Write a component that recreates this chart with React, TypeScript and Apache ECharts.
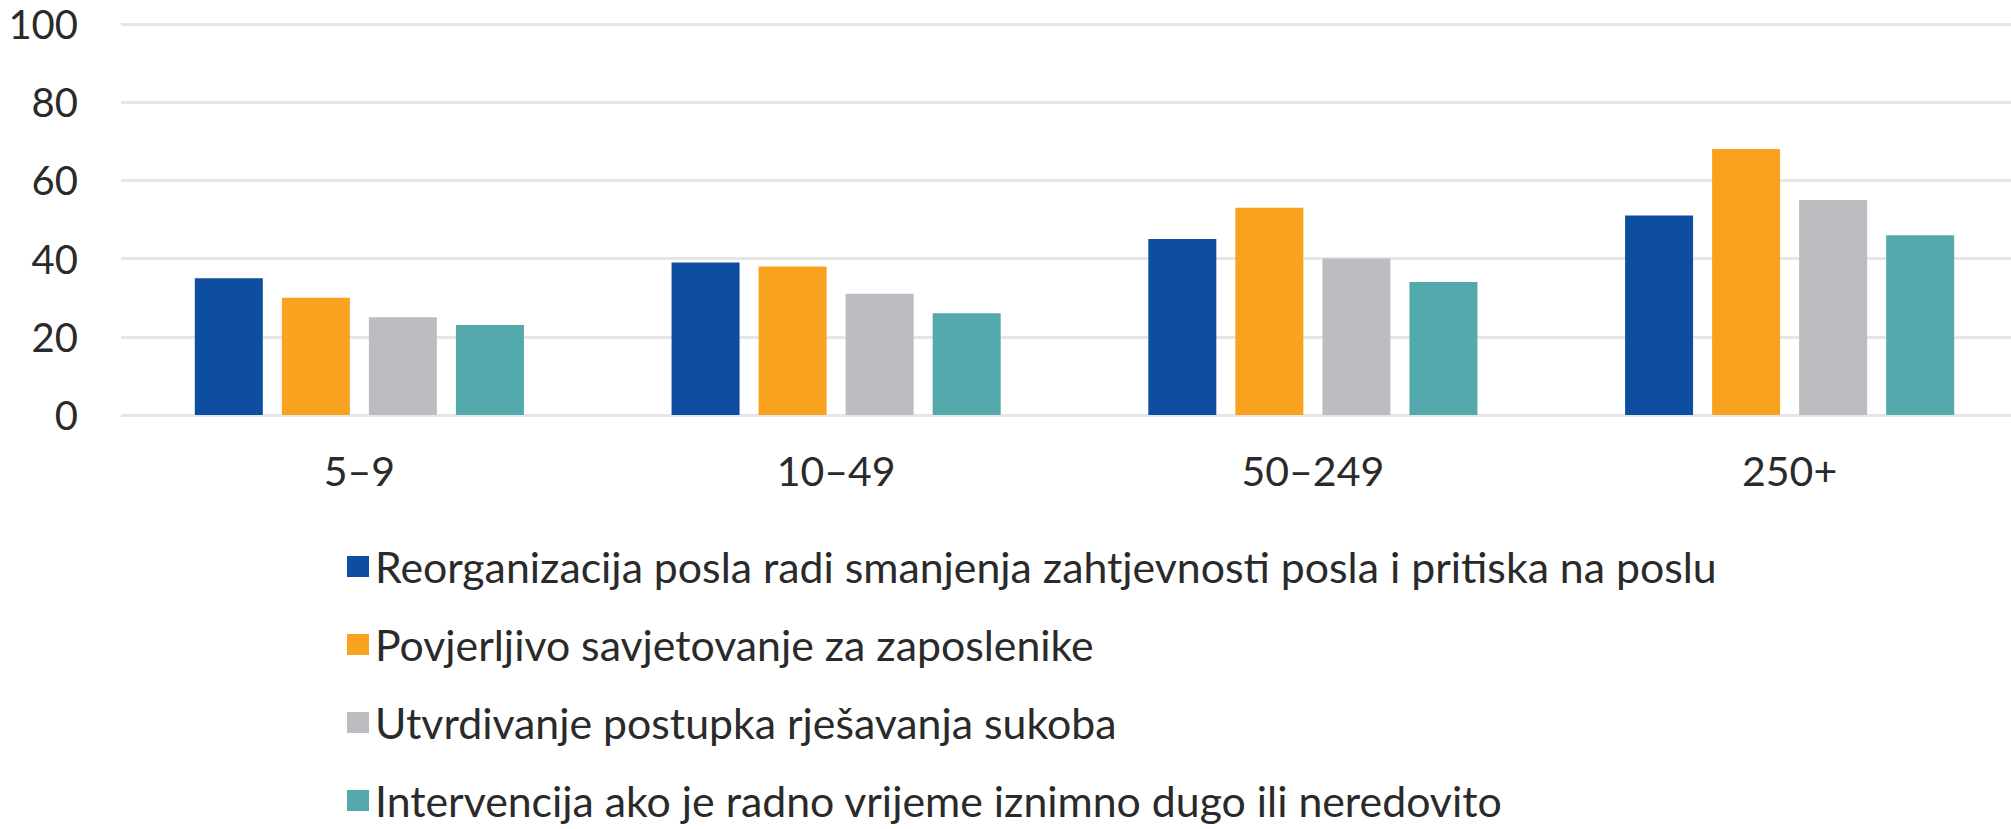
import React, { useEffect, useRef } from "react";
import * as echarts from "echarts";

const categories = ["5–9", "10–49", "50–249", "250+"];
const seriesNames = [
  "Reorganizacija posla radi smanjenja zahtjevnosti posla i pritiska na poslu",
  "Povjerljivo savjetovanje za zaposlenike",
  "Utvrdivanje postupka rješavanja sukoba",
  "Intervencija ako je radno vrijeme iznimno dugo ili neredovito",
];
const reorganizacija = [35, 39, 45, 51];
const savjetovanje = [30, 38, 53, 68];
const sukobi = [25, 31, 40, 55];
const intervencija = [23, 26, 34, 46];
const yTicks = [0, 20, 40, 60, 80, 100];

const colors = ["#0D4EA0", "#F8A21F", "#BCBDC1", "#53A9AB"];
const legendTops = [540, 618, 696, 774];
const FONT = "Lato";
const TEXT = "#2a2a2a";
const CHART_W = 2040;

export default function App() {
  const ref = useRef<HTMLDivElement>(null);
  useEffect(() => {
    if (!ref.current) return;
    const chart = echarts.init(ref.current, undefined, { renderer: "svg" });
    const values = [reorganizacija, savjetovanje, sukobi, intervencija];
    chart.setOption({
      animation: false,
      backgroundColor: "#ffffff",
      textStyle: { fontFamily: FONT },
      grid: { left: 121, right: CHART_W - 2028, top: 24, bottom: 414, containLabel: false },
      legend: seriesNames.map((name, i) => ({
        orient: "vertical",
        left: 342,
        top: legendTops[i],
        itemWidth: 22,
        itemHeight: 21,
        icon: "rect",
        data: [name],
        selectedMode: false,
        textStyle: {
          fontFamily: FONT,
          fontSize: 42.8,
          color: TEXT,
          lineHeight: 40,
          padding: [0, 0, 0, 1],
        },
      })),
      xAxis: {
        type: "category",
        data: categories,
        axisLine: { show: false },
        axisTick: { show: false },
        axisLabel: { fontFamily: FONT, fontSize: 41, color: TEXT, margin: 35 },
        splitLine: { show: false },
      },
      yAxis: {
        type: "value",
        min: yTicks[0],
        max: yTicks[yTicks.length - 1],
        interval: 20,
        axisLine: { show: false },
        axisTick: { show: false },
        axisLabel: { fontFamily: FONT, fontSize: 40, color: TEXT, margin: 43 },
        splitLine: { lineStyle: { color: "#e6e6e7", width: 3 } },
      },
      series: values.map((v, i) => ({
        name: seriesNames[i],
        type: "bar",
        data: v,
        barWidth: 68,
        barGap: "28%",
        itemStyle: { color: colors[i] },
      })),
    });
    return () => chart.dispose();
  }, []);
  return (
    <div
      style={{
        position: "absolute",
        left: 0,
        top: 0,
        width: 2011,
        height: 829,
        overflow: "hidden",
      }}
    >
      <div ref={ref} style={{ width: CHART_W, height: 829 }} />
    </div>
  );
}
